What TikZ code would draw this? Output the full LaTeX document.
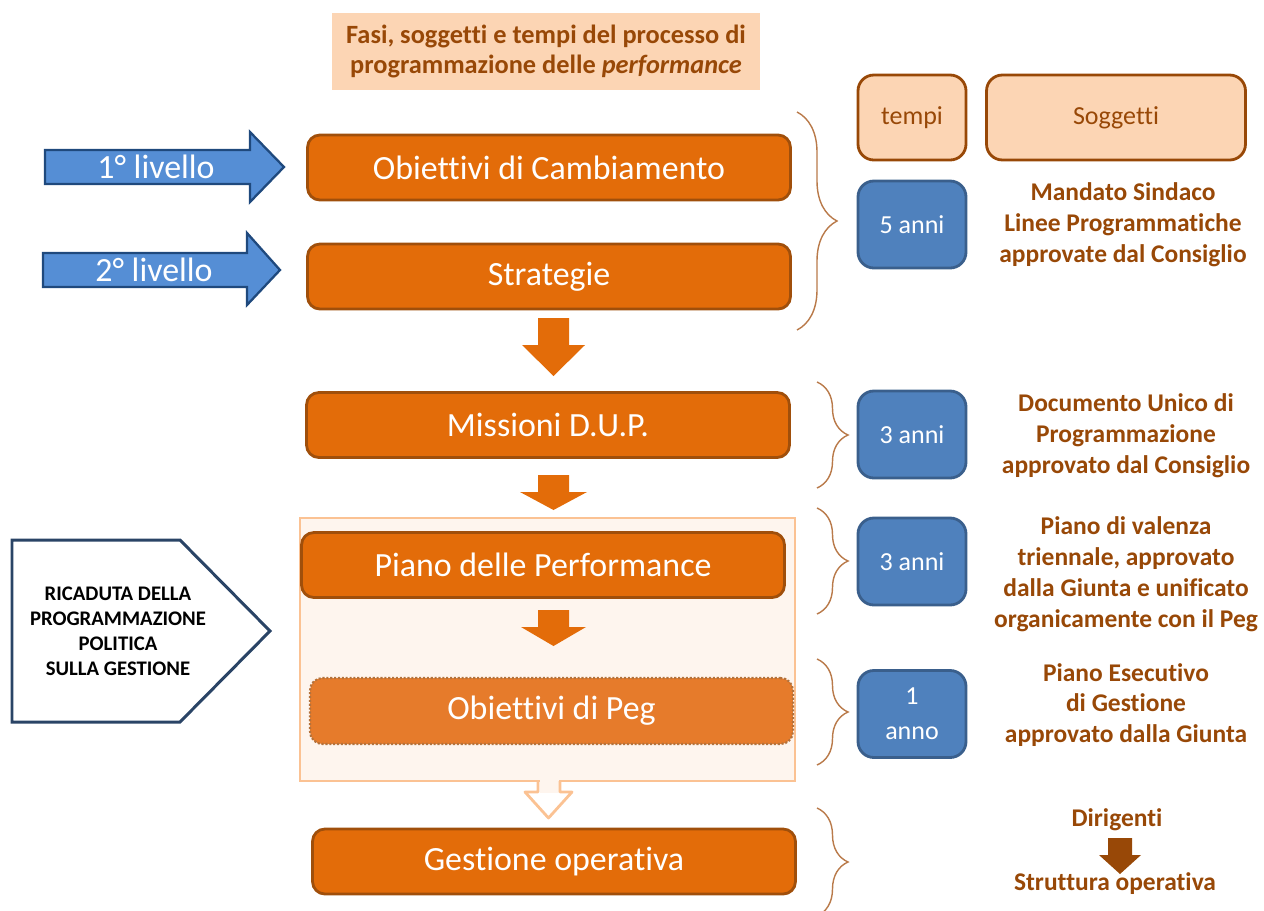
\documentclass[tikz,border=0pt]{standalone}
\usepackage{fontspec}
\setmainfont[Ligatures={NoCommon,NoRare}]{Carlito}
\usetikzlibrary{decorations.pathreplacing}
\definecolor{fase}{HTML}{E36C09}
\definecolor{faseline}{HTML}{A04F0B}
\definecolor{brownt}{HTML}{984807}
\definecolor{peach}{HTML}{FCD5B4}
\definecolor{palepeach}{HTML}{FEF5EE}
\definecolor{lightor}{HTML}{FBC293}
\definecolor{pegfill}{HTML}{E67B2B}
\definecolor{bluebox}{HTML}{4F81BD}
\definecolor{blueline}{HTML}{3A5F8C}
\definecolor{bluearrow}{HTML}{558ED5}
\definecolor{navy}{HTML}{1F497D}
\definecolor{pentline}{HTML}{2A4466}
\definecolor{bracecol}{HTML}{B97A4A}

\begin{document}
\begin{tikzpicture}[
  x=0.02cm, y=-0.02cm,
  fase/.style = {draw=faseline, line width=1.6pt, fill=fase, rounded corners=7pt,
    minimum width=9.66cm, minimum height=1.3cm, inner sep=0pt, text=white,
    font=\fontsize{19.3}{22}\selectfont},
  tempo/.style = {draw=blueline, line width=1.6pt, fill=bluebox, rounded corners=9pt,
    minimum width=2.16cm, minimum height=1.74cm, inner sep=0pt, text=white, align=center,
    font=\fontsize{14.8}{20}\selectfont},
  intest/.style = {draw=brownt, line width=1.6pt, fill=peach, rounded corners=9pt,
    minimum height=1.7cm, inner sep=0pt, text=brownt, font=\fontsize{14.8}{18}\selectfont},
  soggetto/.style = {text=brownt, align=center, font=\bfseries\fontsize{14.5}{17.6}\selectfont},
  freccia/.style = {fill=fase, draw=none},
  livello/.style = {fill=bluearrow, draw=navy, line width=1.3pt, line join=miter},
  livtxt/.style = {text=white, font=\fontsize{19.3}{22}\selectfont},
  graffa/.style = {draw=bracecol, line width=0.8pt, decorate, decoration={brace, amplitude=#1}}
]
  \useasboundingbox (0,0) rectangle (1264,910);

  % titolo
  \node[fill=peach, minimum width=8.56cm, minimum height=1.54cm, inner sep=0pt,
        text=brownt, align=center, font=\bfseries\fontsize{15}{17.6}\selectfont]
        (titolo) at (546,51.5) {Fasi, soggetti e tempi del processo di\\
        programmazione delle \textit{performance}};

  % livelli
  \draw[livello] (45,150) -- (250,150) -- (250,132) -- (284,167) -- (250,202)
        -- (250,184) -- (45,184) -- cycle;
  \node[livtxt] (liv1) at (156,167) {1° livello};
  \draw[livello] (43,253) -- (247,253) -- (247,233) -- (280,270) -- (247,305)
        -- (247,287) -- (43,287) -- cycle;
  \node[livtxt] (liv2) at (154,270) {2° livello};

  % fasi
  \node[fase] (obiettivi) at (549,167.5) {Obiettivi di Cambiamento};
  \node[fase] (strategie) at (549,276.5) {Strategie};
  \draw[freccia] (538,318) -- (569,318) -- (569,345) -- (585,345) -- (553.5,376)
        -- (522,345) -- (538,345) -- cycle;
  \node[fase] (missioni) at (548,425) {Missioni D.U.P.};
  \draw[freccia] (538,475) -- (569,475) -- (569,492) -- (587,492) -- (553.5,510)
        -- (520,492) -- (538,492) -- cycle;

  % riquadro performance / peg
  \draw[fill=palepeach, draw=lightor, line width=1.6pt] (300,518) rectangle (795,781);
  \node[fase] (piano) at (543,565) {Piano delle Performance};
  \draw[freccia] (538,610) -- (569,610) -- (569,627) -- (586,627) -- (553.5,646)
        -- (521,627) -- (538,627) -- cycle;
  \node[fase, fill=pegfill, draw=faseline!80!white, line width=1.2pt, densely dotted,
        minimum height=1.32cm] (peg) at (551.5,711) {Obiettivi di Peg};
  \fill[palepeach] (539.5,776) rectangle (558.5,793);
  \draw[draw=lightor, line width=1.6pt, line join=round] (538,781) -- (538,792) -- (525,792)
        -- (548.5,818) -- (572,792) -- (560,792) -- (560,781);
  \node[fase] (gestione) at (554,861.5) {Gestione operativa};

  % ricaduta
  \draw[draw=pentline, line width=1.7pt, fill=white] (12,540) -- (180,540) -- (270,631)
        -- (180,722) -- (12,722) -- cycle;
  \node[align=center, font=\bfseries\fontsize{11.8}{14.2}\selectfont] (ricaduta) at (118,631)
        {RICADUTA DELLA\\PROGRAMMAZIONE\\POLITICA\\SULLA GESTIONE};

  % graffe
  \draw[graffa=0.8cm] (797,112) -- (797,330);
  \draw[graffa=0.62cm] (817,382) -- (817,488);
  \draw[graffa=0.62cm] (817,508) -- (817,614);
  \draw[graffa=0.62cm] (817,659) -- (817,765);
  \draw[graffa=0.62cm] (817,808) -- (817,916);

  % tempi e soggetti
  \node[intest, minimum width=2.16cm] (tempi) at (912,117.5) {tempi};
  \node[intest, minimum width=5.18cm] (soggetti) at (1116,117.5) {Soggetti};
  \node[tempo] (anni5) at (912,224.5) {5 anni};
  \node[soggetto] (mandato) at (1123,225) {Mandato Sindaco\\Linee Programmatiche\\approvate dal Consiglio};
  \node[tempo] (anni3a) at (912,434.5) {3 anni};
  \node[soggetto] (dup) at (1126,436) {Documento Unico di\\Programmazione\\approvato dal Consiglio};
  \node[tempo] (anni3b) at (912,561.5) {3 anni};
  \node[soggetto] (valenza) at (1126,574) {Piano di valenza\\triennale, approvato\\dalla Giunta e unificato\\organicamente con il Peg};
  \node[tempo] (anno1) at (912,714) {1\\anno};
  \node[soggetto] (esecutivo) at (1126,705) {Piano Esecutivo\\di Gestione\\approvato dalla Giunta};

  % dirigenti
  \node[soggetto] (dirigenti) at (1117,820) {Dirigenti};
  \node[soggetto] (struttura) at (1115,884) {Struttura operativa};
  \draw[fill=brownt, draw=none] (1108,838) -- (1132,838) -- (1132,855) -- (1141,855)
        -- (1120,874) -- (1099,855) -- (1108,855) -- cycle;
\end{tikzpicture}
\end{document}
